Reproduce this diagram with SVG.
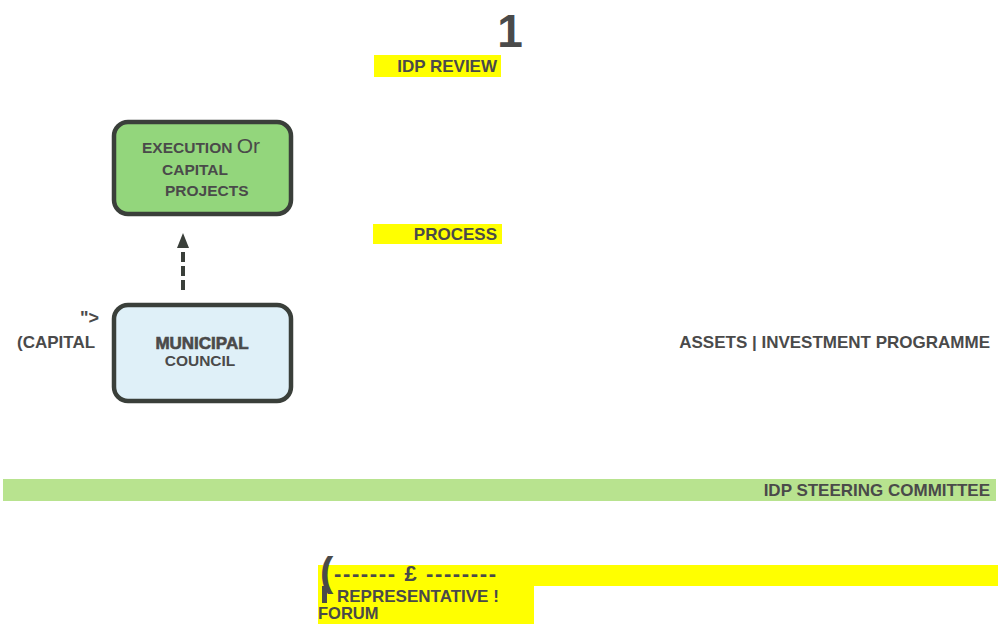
<svg xmlns="http://www.w3.org/2000/svg" width="999" height="624" viewBox="0 0 999 624">
<defs>
<style>
.t{font-family:"Liberation Sans",Arial,sans-serif;font-weight:bold;fill:#4a4a4a;}
.s17{font-size:17px;}
.s15{font-size:15.5px;}
.box{stroke:#3a3f3a;stroke-width:4.5;}
.yel{fill:#ffff00;}
</style>
</defs>
<rect width="999" height="624" fill="#ffffff"/>

<g id="title">
<text class="t" x="510" y="47" font-size="46" text-anchor="middle">1</text>
</g>

<g id="idp-review">
<rect class="yel" x="374" y="55" width="127" height="22"/>
<text class="t s17" x="497" y="72" text-anchor="end">IDP REVIEW</text>
</g>

<g id="process">
<rect class="yel" x="373" y="224" width="129" height="20"/>
<text class="t s17" x="497" y="240" text-anchor="end">PROCESS</text>
</g>

<g id="execution">
<rect class="box" x="114" y="122" width="177" height="92" rx="14" fill="#93d67c"/>
<text class="t s15" x="142" y="153">EXECUTION <tspan font-weight="normal" font-size="21">Or</tspan></text>
<text class="t s15" x="162" y="175">CAPITAL</text>
<text class="t s15" x="165" y="196">PROJECTS</text>
</g>

<g id="municipal">
<rect class="box" x="114" y="305" width="177" height="96" rx="14" fill="#dff0f8"/>
<text class="t" x="202" y="349" font-size="17" text-anchor="middle" font-weight="900" stroke="#4a4a4a" stroke-width="0.6">MUNICIPAL</text>
<text class="t s15" x="200" y="366" text-anchor="middle">COUNCIL</text>
</g>

<g id="connectors">
<line x1="183" y1="290" x2="183" y2="250" stroke="#3a3f3a" stroke-width="4" stroke-dasharray="10,4"/>
<path d="M183,233 L189,248 L177,248 Z" fill="#3a3f3a"/>
</g>

<g id="capital-label">
<text class="t" x="80" y="324" font-size="18" font-weight="normal">"&gt;</text>
<text class="t s17" x="17" y="348">(CAPITAL</text>
</g>

<g id="assets">
<text class="t s17" x="990" y="348" text-anchor="end">ASSETS | INVESTMENT PROGRAMME</text>
</g>

<g id="steering">
<rect x="3" y="479" width="993" height="22" fill="#b8e38f"/>
<text class="t s17" x="990" y="496" text-anchor="end">IDP STEERING COMMITTEE</text>
</g>

<g id="forum">
<rect class="yel" x="318" y="565" width="680" height="21"/>
<rect class="yel" x="318" y="585" width="216" height="39"/>
<text class="t" x="320" y="586" font-size="40" font-weight="normal">(</text>
<text class="t" x="334" y="581" font-size="22" font-weight="normal" textLength="162" lengthAdjust="spacing">------- £ --------</text>
<rect x="322" y="586" width="5" height="17" fill="#4a4a4a"/>
<text class="t s17" x="337" y="602">REPRESENTATIVE !</text>
<text class="t" x="318" y="619" font-size="16.5">FORUM</text>
</g>
</svg>
